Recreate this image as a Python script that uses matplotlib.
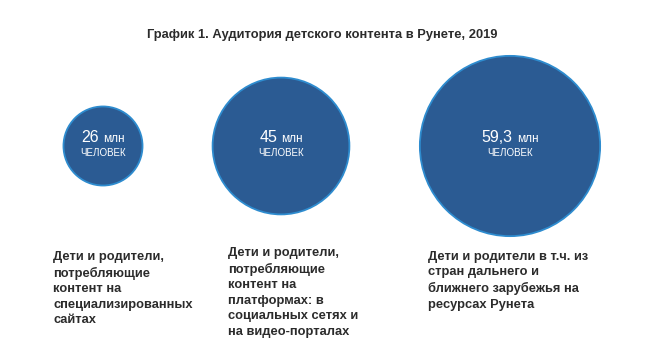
import matplotlib.pyplot as plt
from matplotlib.patches import Circle
from matplotlib.offsetbox import TextArea, HPacker, VPacker, AnnotationBbox

plt.rcParams['font.family'] = ['Liberation Sans', 'DejaVu Sans']

title = "График 1. Аудитория детского контента в Рунете, 2019"
values = [26, 45, 59.3]
value_labels = ["26", "45", "59,3"]
unit = "млн"
unit2 = "ЧЕЛОВЕК"
captions = [
    "Дети и родители,\nпотребляющие\nконтент на\nспециализированных\nсайтах",
    "Дети и родители,\nпотребляющие\nконтент на\nплатформах: в\nсоциальных сетях и\nна видео-порталах",
    "Дети и родители в т.ч. из\nстран дальнего и\nближнего зарубежья на\nресурсах Рунета",
]

# layout (pixels, y downwards)
centers_x = [103, 281, 510]
center_y = 146
px_per_unit = 1.52
caption_x = [53, 228, 428]
caption_y = [251, 247, 251]

FILL = "#2b5b93"
EDGE = "#2e8ccf"
TEXT = "#2b2b2b"

fig = plt.figure(figsize=(6.6, 3.62), dpi=100)
ax = fig.add_axes([0, 0, 1, 1])
ax.set_xlim(0, 660)
ax.set_ylim(362, 0)
ax.set_aspect("equal")
ax.axis("off")

ax.text(322, 35, title, ha="center", va="center", fontsize=9.3,
        fontweight="bold", color=TEXT)

for v, lab, cx in zip(values, value_labels, centers_x):
    ax.add_patch(Circle((cx, center_y), v * px_per_unit, facecolor=FILL,
                        edgecolor=EDGE, linewidth=1.3))
    top = HPacker(children=[
        TextArea(lab, textprops=dict(color="white", fontsize=11.5)),
        TextArea(unit, textprops=dict(color="white", fontsize=8.5)),
    ], align="baseline", pad=0, sep=3)
    bottom = TextArea(unit2, textprops=dict(color="white", fontsize=7))
    box = VPacker(children=[top, bottom], align="center", pad=0, sep=2)
    ab = AnnotationBbox(box, (cx, center_y - 2), frameon=False,
                        box_alignment=(0.5, 0.5))
    ax.add_artist(ab)

for cap, x, y in zip(captions, caption_x, caption_y):
    ax.text(x, y, cap, ha="left", va="top", fontsize=9.3, fontweight="bold",
            color=TEXT, linespacing=1.38)

fig.savefig("out.png", dpi=100)
